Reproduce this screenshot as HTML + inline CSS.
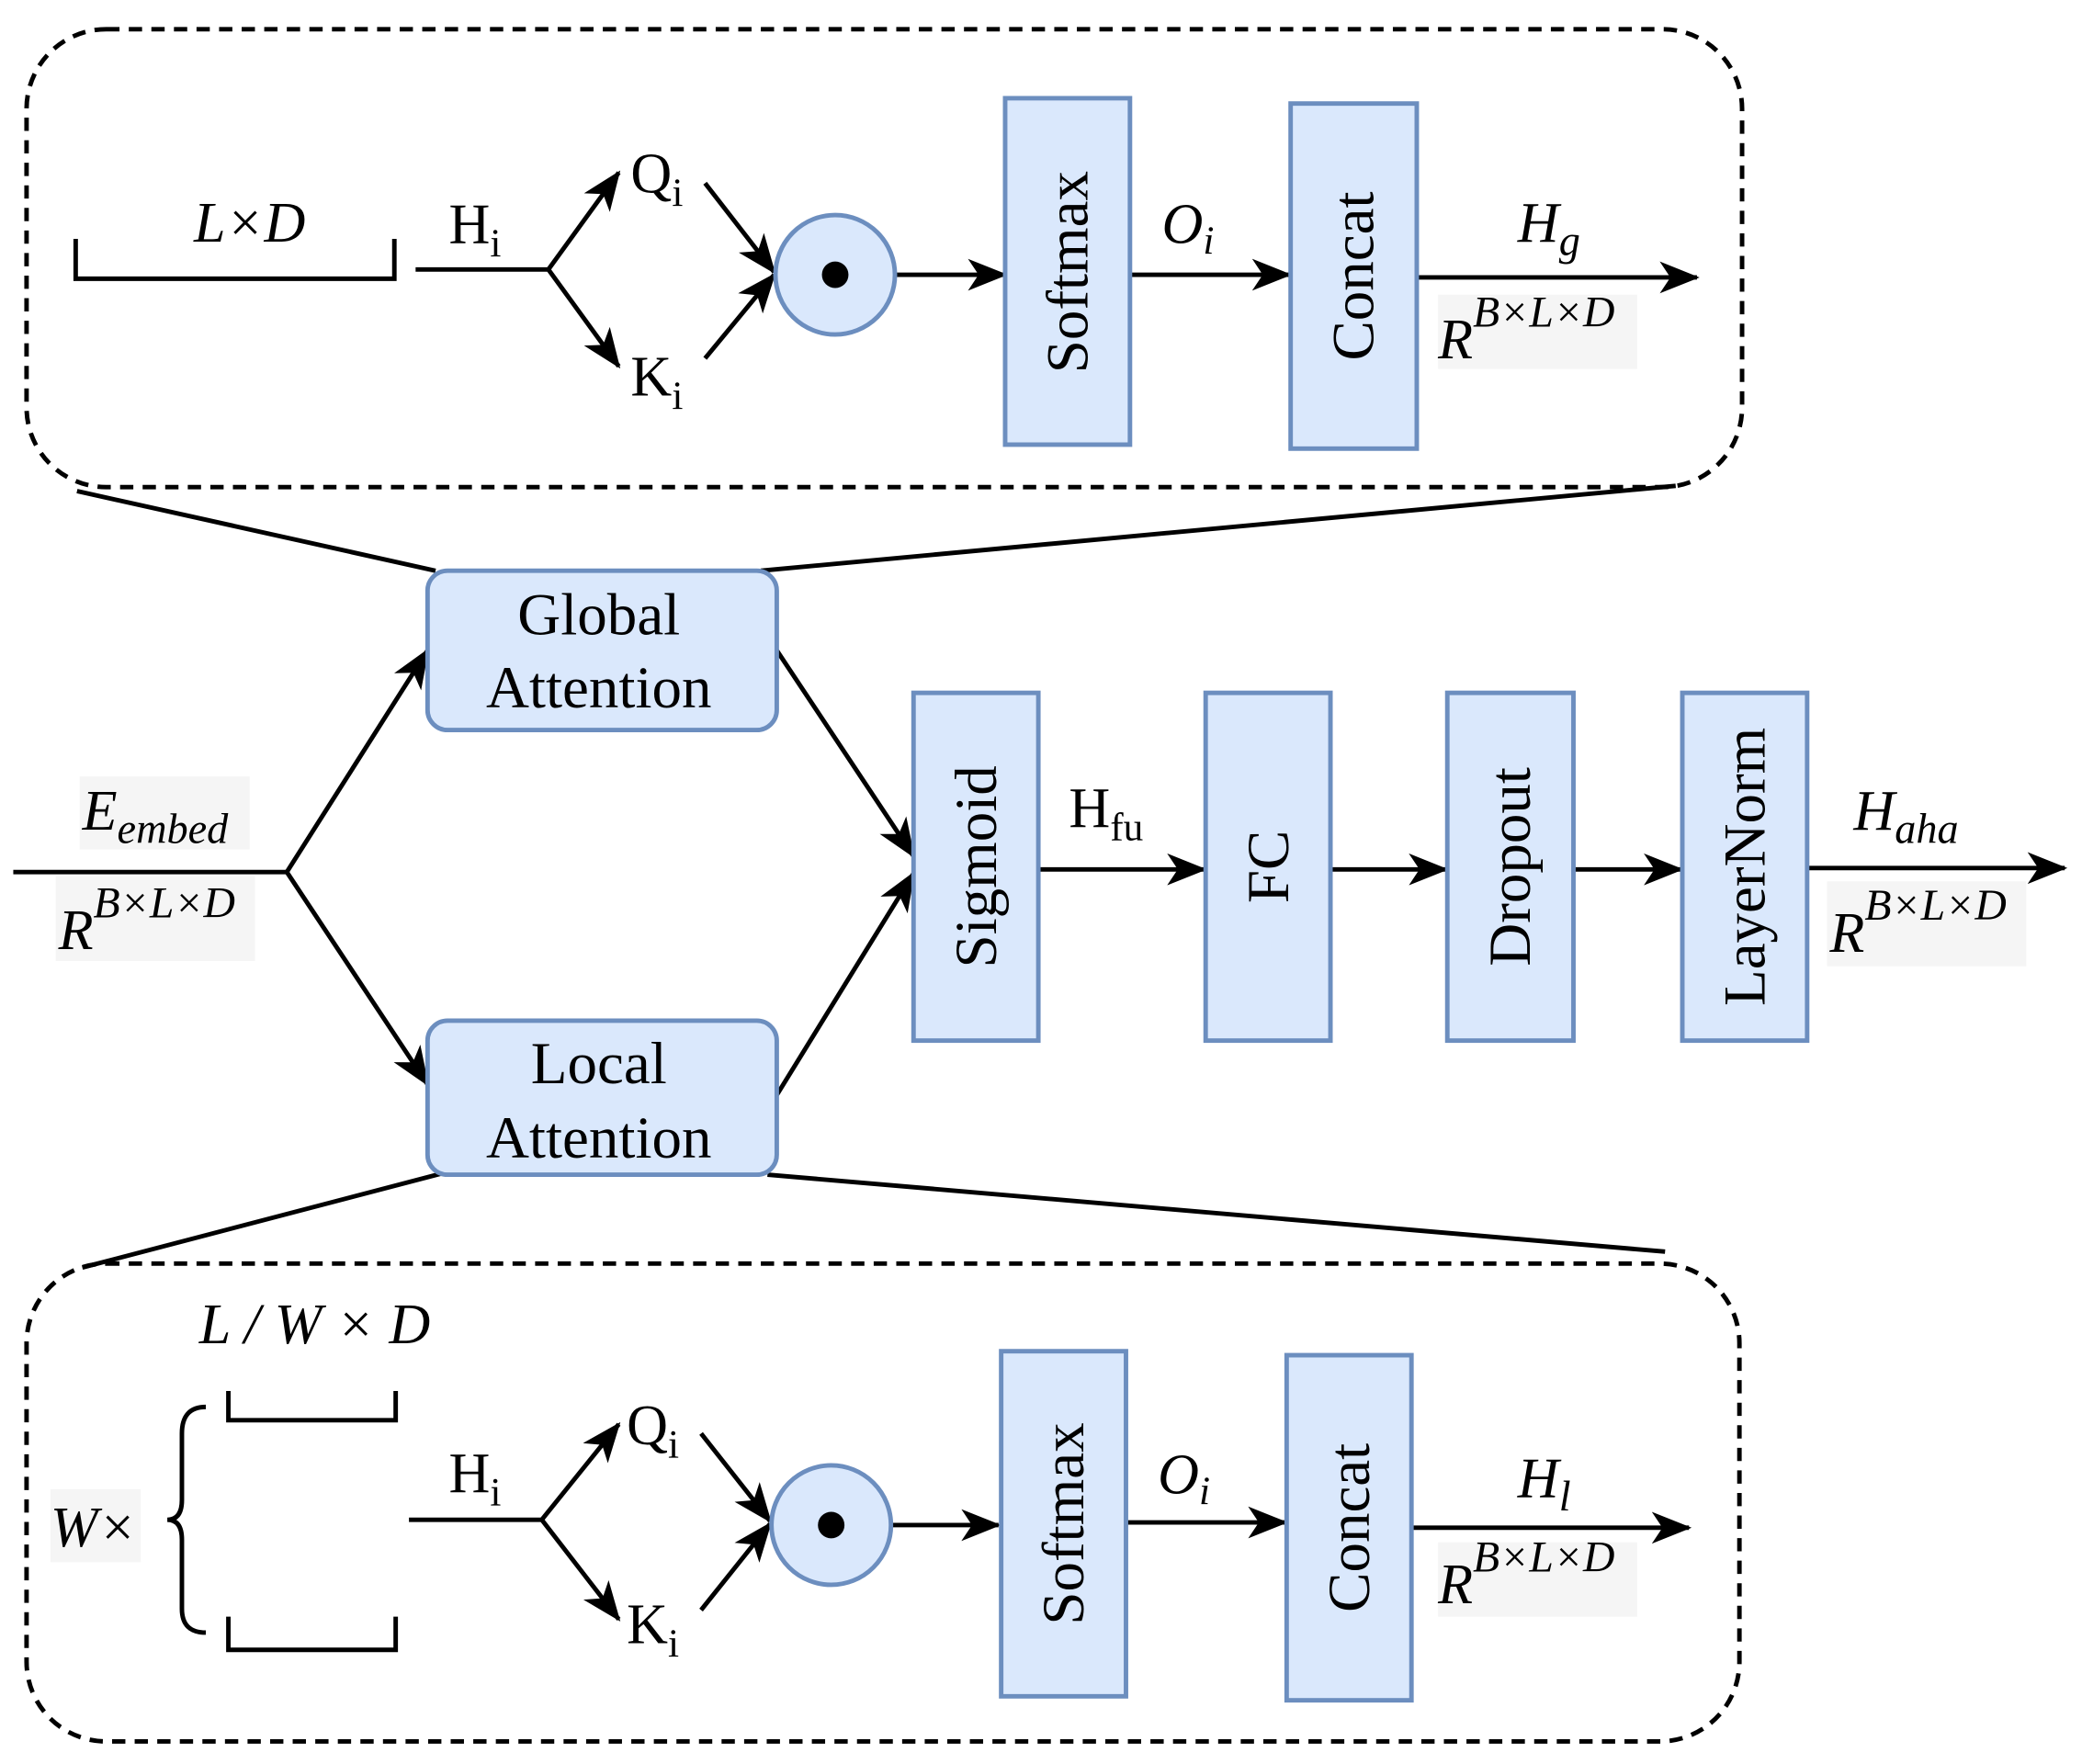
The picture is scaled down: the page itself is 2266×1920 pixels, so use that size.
<!DOCTYPE html>
<html><head><meta charset="utf-8"><style>
html,body{margin:0;padding:0;background:#fff}
svg{display:block}
text{font-family:"Liberation Serif",serif;fill:#000}
.it{font-style:italic}
</style></head><body>
<svg width="2266" height="1920" viewBox="0 0 1568 1329" preserveAspectRatio="none" xmlns="http://www.w3.org/2000/svg">
<defs>
<marker id="a" viewBox="-28 -12 30 24" refX="0" refY="0" markerWidth="30" markerHeight="24" markerUnits="userSpaceOnUse" orient="auto">
<path d="M-28,-12 L2,0 L-28,12 L-20,0 z" fill="#000"/>
</marker>
</defs>
<g fill="none" stroke="#000" stroke-width="3.4">
<rect x="20" y="22" width="1292" height="345" rx="60" stroke-dasharray="10,7"/>
<rect x="20" y="952" width="1290" height="360" rx="60" stroke-dasharray="10,7"/>
<path d="M57,180 V210 H297 V180"/>
<path d="M172,1048 V1070 H298 V1048"/>
<path d="M172,1218 V1243 H298 V1218"/>
<path d="M155,1060 Q137,1060 137,1080 V1130 Q137,1145 126,1145 Q137,1145 137,1160 V1212 Q137,1230 155,1230"/>
<path d="M313,203 H413"/>
<path d="M413,203 L466,130" marker-end="url(#a)"/>
<path d="M413,203 L466,276" marker-end="url(#a)"/>
<path d="M531,138 L583,205" marker-end="url(#a)"/>
<path d="M531,270 L583,207" marker-end="url(#a)"/>
<path d="M675,207 H757" marker-end="url(#a)"/>
<path d="M851,207 H971" marker-end="url(#a)"/>
<path d="M1067,209 H1278" marker-end="url(#a)"/>
<path d="M58,370 L328,430"/>
<path d="M1262,366 L573,430"/>
<path d="M333,884 L62,955"/>
<path d="M578,885 L1254,943"/>
<path d="M10,657 H216"/>
<path d="M216,657 L322,490" marker-end="url(#a)"/>
<path d="M216,657 L322,817" marker-end="url(#a)"/>
<path d="M585,490 L688,645" marker-end="url(#a)"/>
<path d="M585,825 L688,658" marker-end="url(#a)"/>
<path d="M782,655 H907" marker-end="url(#a)"/>
<path d="M1002,655 H1089" marker-end="url(#a)"/>
<path d="M1185,655 H1266" marker-end="url(#a)"/>
<path d="M1361,654 H1555" marker-end="url(#a)"/>
<path d="M308,1145 H408"/>
<path d="M408,1145 L466,1073" marker-end="url(#a)"/>
<path d="M408,1145 L466,1220" marker-end="url(#a)"/>
<path d="M528,1080 L580,1146" marker-end="url(#a)"/>
<path d="M528,1213 L580,1148" marker-end="url(#a)"/>
<path d="M672,1149 H752" marker-end="url(#a)"/>
<path d="M848,1147 H968" marker-end="url(#a)"/>
<path d="M1063,1151 H1272" marker-end="url(#a)"/>
</g>
<g fill="#dae8fc" stroke="#6c8ebf" stroke-width="3.4">
<circle cx="629" cy="207" r="45"/>
<circle cx="626" cy="1149" r="45"/>
<rect x="757" y="74" width="94" height="261"/>
<rect x="972" y="78" width="95" height="260"/>
<rect x="754" y="1018" width="94" height="260"/>
<rect x="969" y="1021" width="94" height="260"/>
<rect x="322" y="430" width="263" height="120" rx="15"/>
<rect x="322" y="769" width="263" height="116" rx="15"/>
<rect x="688" y="522" width="94" height="262"/>
<rect x="908" y="522" width="94" height="262"/>
<rect x="1090" y="522" width="95" height="262"/>
<rect x="1267" y="522" width="94" height="262"/>
</g>
<circle cx="629" cy="207" r="10" fill="#000"/>
<circle cx="626" cy="1149" r="10" fill="#000"/>
<g fill="#f5f5f5">
<rect x="1083" y="222" width="150" height="56"/>
<rect x="1083" y="1162" width="150" height="56"/>
<rect x="42" y="660" width="150" height="64"/>
<rect x="60" y="585" width="128" height="55"/>
<rect x="1376" y="664" width="150" height="64"/>
<rect x="38" y="1122" width="68" height="55"/>
</g>
<g font-size="43">
<text x="188" y="182" text-anchor="middle" class="it">L×D</text>
<text x="338" y="183">H<tspan font-size="30" dy="10">i</tspan></text>
<text x="475" y="145">Q<tspan font-size="30" dy="10">i</tspan></text>
<text x="475" y="298">K<tspan font-size="30" dy="10">i</tspan></text>
<text x="875" y="183" class="it">O<tspan font-size="30" dy="8">i</tspan></text>
<text x="1143" y="182" class="it">H<tspan font-size="32" dy="10">g</tspan></text>
<text x="1083" y="270" class="it">R<tspan font-size="33" dy="-24">B×L×D</tspan></text>
<text x="237" y="1012" text-anchor="middle" class="it">L / W × D</text>
<text x="338" y="1124">H<tspan font-size="30" dy="10">i</tspan></text>
<text x="472" y="1088">Q<tspan font-size="30" dy="10">i</tspan></text>
<text x="472" y="1238">K<tspan font-size="30" dy="10">i</tspan></text>
<text x="872" y="1125" class="it">O<tspan font-size="30" dy="8">i</tspan></text>
<text x="1143" y="1128" class="it">H<tspan font-size="32" dy="10">l</tspan></text>
<text x="1083" y="1208" class="it">R<tspan font-size="33" dy="-24">B×L×D</tspan></text>
<text x="38" y="1165" class="it">W×</text>
<text x="62" y="625" class="it">E<tspan font-size="32" dy="10">embed</tspan></text>
<text x="44" y="715" class="it">R<tspan font-size="33" dy="-24">B×L×D</tspan></text>
<text x="805" y="623">H<tspan font-size="30" dy="10">fu</tspan></text>
<text x="1396" y="625" class="it">H<tspan font-size="32" dy="10">aha</tspan></text>
<text x="1378" y="717" class="it">R<tspan font-size="33" dy="-24">B×L×D</tspan></text>
</g>
<g font-size="45">
<text x="451" y="478" text-anchor="middle">Global</text>
<text x="451" y="533" text-anchor="middle">Attention</text>
<text x="451" y="816" text-anchor="middle">Local</text>
<text x="451" y="872" text-anchor="middle">Attention</text>
<text transform="translate(819,205) rotate(-90)" text-anchor="middle">Softmax</text>
<text transform="translate(1034,208) rotate(-90)" text-anchor="middle">Concat</text>
<text transform="translate(816,1148) rotate(-90)" text-anchor="middle">Softmax</text>
<text transform="translate(1031,1151) rotate(-90)" text-anchor="middle">Concat</text>
<text transform="translate(750,653) rotate(-90)" text-anchor="middle">Sigmoid</text>
<text transform="translate(970,653) rotate(-90)" text-anchor="middle">FC</text>
<text transform="translate(1152,653) rotate(-90)" text-anchor="middle">Dropout</text>
<text transform="translate(1329,653) rotate(-90)" text-anchor="middle">LayerNorm</text>
</g>
</svg>
</body></html>
